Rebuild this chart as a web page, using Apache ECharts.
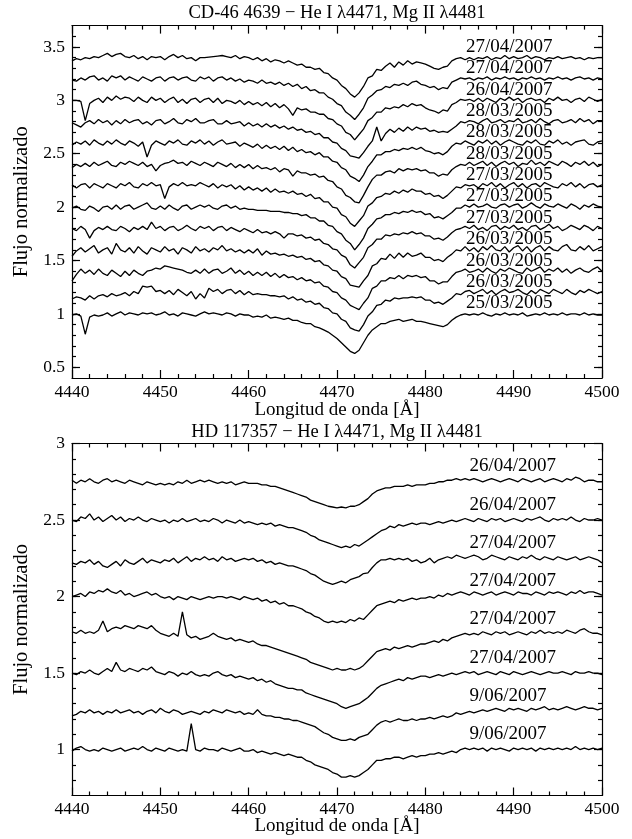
<!DOCTYPE html>
<html><head><meta charset="utf-8">
<script src="https://cdn.jsdelivr.net/npm/echarts@6/dist/echarts.min.js"></script>
<style>html,body{margin:0;padding:0;background:#fff}#c{width:632px;height:839px}</style>
</head><body><div id="c"></div>
<script>
// ---------- data ----------
const wavelength = [4440,4440.5,4441,4441.5,4442,4442.5,4443,4443.5,4444,4444.5,4445,4445.5,4446,4446.5,4447,4447.5,4448,4448.5,4449,4449.5,
4450,4450.5,4451,4451.5,4452,4452.5,4453,4453.5,4454,4454.5,4455,4455.5,4456,4456.5,4457,4457.5,4458,4458.5,4459,4459.5,
4460,4460.5,4461,4461.5,4462,4462.5,4463,4463.5,4464,4464.5,4465,4465.5,4466,4466.5,4467,4467.5,4468,4468.5,4469,4469.5,
4470,4470.5,4471,4471.5,4472,4472.5,4473,4473.5,4474,4474.5,4475,4475.5,4476,4476.5,4477,4477.5,4478,4478.5,4479,4479.5,
4480,4480.5,4481,4481.5,4482,4482.5,4483,4483.5,4484,4484.5,4485,4485.5,4486,4486.5,4487,4487.5,4488,4488.5,4489,4489.5,
4490,4490.5,4491,4491.5,4492,4492.5,4493,4493.5,4494,4494.5,4495,4495.5,4496,4496.5,4497,4497.5,4498,4498.5,4499,4499.5,4500];

// CD-46 4639 spectra (top panel, top to bottom)
const cd_27apr07_a = [3.37,3.39,3.38,3.40,3.39,3.41,3.40,3.42,3.44,3.41,
3.43,3.44,3.41,3.40,3.42,3.39,3.41,3.38,3.41,3.40,
3.41,3.38,3.41,3.43,3.40,3.42,3.39,3.40,3.37,3.40,
3.40,3.405,3.41,3.415,3.42,3.41,3.40,3.42,3.39,3.41,
3.40,3.38,3.40,3.37,3.39,3.36,3.38,3.37,3.35,3.37,
3.35,3.33,3.34,3.31,3.31,3.29,3.30,3.26,3.25,3.21,
3.19,3.14,3.11,3.06,3.03,3.07,3.13,3.21,3.23,3.29,
3.28,3.32,3.35,3.31,3.36,3.33,3.37,3.34,3.36,3.35,
3.34,3.32,3.30,3.29,3.31,3.32,3.37,3.39,3.40,3.38,
3.40,3.38,3.40,3.39,3.41,3.38,3.40,3.39,3.42,3.39,
3.41,3.39,3.40,3.42,3.39,3.41,3.40,3.38,3.40,3.39,
3.41,3.39,3.40,3.41,3.39,3.40,3.38,3.40,3.39,3.40,3.40];
const cd_27apr07_b = [3.19,3.18,3.21,3.19,3.22,3.23,3.19,3.21,3.18,3.23,
3.21,3.23,3.19,3.22,3.20,3.18,3.22,3.20,3.18,3.21,
3.22,3.18,3.21,3.22,3.19,3.21,3.22,3.19,3.18,3.22,
3.20,3.22,3.18,3.21,3.22,3.19,3.21,3.18,3.20,3.17,
3.19,3.18,3.16,3.19,3.16,3.17,3.15,3.17,3.14,3.16,
3.13,3.15,3.11,3.13,3.09,3.10,3.07,3.07,3.03,3.01,
2.97,2.95,2.89,2.86,2.82,2.87,2.93,3.02,3.05,3.09,
3.10,3.13,3.12,3.15,3.14,3.16,3.14,3.17,3.18,3.15,
3.14,3.12,3.13,3.10,3.12,3.11,3.17,3.19,3.21,3.20,
3.21,3.19,3.21,3.20,3.22,3.19,3.21,3.20,3.22,3.20,
3.21,3.19,3.21,3.20,3.22,3.20,3.21,3.19,3.21,3.20,
3.22,3.20,3.21,3.19,3.21,3.22,3.20,3.21,3.19,3.21,3.20];
const cd_26apr07 = [3.00,3.00,2.99,2.81,2.97,3.00,3.02,2.98,3.03,3.00,
3.04,3.01,3.03,3.02,2.99,3.03,3.00,2.98,3.03,3.00,
3.02,2.98,3.01,3.03,2.98,3.01,2.97,3.01,3.02,2.98,
3.01,3.02,2.98,3.02,2.97,3.00,2.99,2.97,3.00,2.96,
2.99,2.96,2.98,2.95,2.98,2.94,2.97,2.93,2.96,2.92,
2.86,2.93,2.91,2.92,2.89,2.89,2.87,2.87,2.83,2.82,
2.78,2.76,2.70,2.68,2.63,2.68,2.73,2.81,2.84,2.89,
2.89,2.93,2.92,2.94,2.93,2.96,2.94,2.97,2.95,2.96,
2.93,2.91,2.90,2.88,2.91,2.90,2.96,2.98,3.01,3.00,
3.01,2.99,3.02,2.99,3.02,3.00,2.98,3.02,3.00,3.03,
3.00,3.02,2.98,3.01,3.02,3.00,3.01,2.98,3.02,3.00,
3.03,3.00,3.01,2.98,3.01,3.02,2.99,3.03,3.01,2.99,3.01];
const cd_28mar05_a = [2.79,2.77,2.75,2.79,2.81,2.78,2.82,2.79,2.81,2.77,
2.81,2.78,2.82,2.79,2.81,2.82,2.78,2.80,2.77,2.81,
2.82,2.78,2.80,2.83,2.79,2.78,2.82,2.80,2.83,2.79,
2.79,2.81,2.82,2.78,2.78,2.81,2.78,2.79,2.80,2.76,
2.79,2.76,2.78,2.75,2.78,2.75,2.77,2.74,2.76,2.73,
2.75,2.72,2.73,2.70,2.71,2.68,2.69,2.65,2.65,2.61,
2.60,2.55,2.53,2.48,2.47,2.46,2.51,2.57,2.62,2.75,
2.62,2.69,2.73,2.70,2.74,2.71,2.75,2.72,2.75,2.73,
2.74,2.71,2.72,2.70,2.71,2.70,2.73,2.76,2.80,2.79,
2.81,2.80,2.78,2.81,2.83,2.79,2.80,2.82,2.79,2.81,
2.80,2.83,2.79,2.80,2.82,2.79,2.83,2.80,2.78,2.81,
2.82,2.79,2.80,2.82,2.79,2.83,2.80,2.82,2.78,2.81,2.81];
const cd_28mar05_b = [2.58,2.61,2.59,2.62,2.58,2.63,2.60,2.58,2.62,2.59,
2.63,2.60,2.58,2.62,2.60,2.57,2.61,2.47,2.58,2.62,
2.60,2.58,2.62,2.60,2.63,2.59,2.58,2.62,2.60,2.63,
2.59,2.62,2.58,2.61,2.63,2.59,2.60,2.61,2.57,2.60,
2.58,2.56,2.59,2.55,2.58,2.55,2.57,2.54,2.57,2.53,
2.56,2.52,2.54,2.51,2.52,2.49,2.51,2.47,2.47,2.43,
2.42,2.37,2.35,2.29,2.27,2.24,2.30,2.38,2.43,2.49,
2.49,2.52,2.52,2.54,2.53,2.55,2.54,2.56,2.54,2.56,
2.53,2.52,2.50,2.51,2.49,2.52,2.57,2.60,2.59,2.62,
2.60,2.58,2.62,2.60,2.63,2.59,2.62,2.58,2.61,2.63,
2.61,2.59,2.58,2.62,2.60,2.63,2.59,2.58,2.62,2.60,
2.63,2.59,2.61,2.58,2.61,2.62,2.63,2.59,2.58,2.61,2.62];
const cd_28mar05_c = [2.37,2.40,2.38,2.41,2.38,2.42,2.39,2.41,2.43,2.39,
2.38,2.42,2.40,2.43,2.41,2.39,2.42,2.38,2.40,2.34,
2.39,2.41,2.42,2.44,2.41,2.42,2.39,2.43,2.41,2.39,
2.42,2.40,2.38,2.42,2.40,2.38,2.41,2.37,2.40,2.37,
2.40,2.36,2.39,2.36,2.37,2.35,2.37,2.33,2.36,2.35,
2.29,2.34,2.32,2.32,2.30,2.31,2.28,2.29,2.25,2.24,
2.19,2.17,2.11,2.09,2.05,2.04,2.11,2.19,2.26,2.30,
2.30,2.33,2.34,2.32,2.36,2.34,2.36,2.35,2.36,2.34,
2.35,2.32,2.32,2.29,2.31,2.30,2.35,2.38,2.40,2.39,
2.42,2.39,2.41,2.43,2.39,2.42,2.38,2.41,2.43,2.40,
2.42,2.38,2.41,2.40,2.44,2.40,2.42,2.39,2.43,2.41,
2.39,2.43,2.41,2.38,2.42,2.40,2.43,2.39,2.42,2.38,2.40];
const cd_27mar05_a = [2.21,2.18,2.21,2.22,2.18,2.22,2.20,2.18,2.22,2.20,
2.18,2.22,2.20,2.23,2.19,2.18,2.22,2.20,2.23,2.20,
2.21,2.08,2.19,2.22,2.20,2.23,2.20,2.21,2.20,2.23,
2.21,2.19,2.22,2.18,2.21,2.19,2.21,2.17,2.20,2.16,
2.19,2.16,2.18,2.15,2.18,2.14,2.17,2.14,2.15,2.13,
2.15,2.12,2.13,2.10,2.12,2.08,2.09,2.05,2.05,2.00,
1.99,1.93,1.91,1.85,1.82,1.87,1.92,2.01,2.04,2.09,
2.10,2.13,2.12,2.15,2.13,2.16,2.14,2.17,2.15,2.15,
2.12,2.13,2.10,2.11,2.08,2.11,2.15,2.19,2.18,2.21,
2.20,2.21,2.18,2.22,2.20,2.23,2.19,2.22,2.18,2.21,
2.23,2.19,2.22,2.18,2.21,2.22,2.19,2.23,2.21,2.19,
2.18,2.22,2.20,2.23,2.19,2.22,2.18,2.21,2.22,2.19,2.21];
const cd_27mar05_b = [1.99,2.01,1.98,1.97,2.01,1.99,1.96,2.00,2.01,1.98,
2.02,1.98,2.01,2.02,1.98,2.00,2.02,2.04,1.99,1.98,
2.01,1.98,2.02,1.99,1.97,2.01,2.02,1.98,2.00,2.02,
2.00,2.02,1.99,1.98,2.01,2.02,1.99,2.01,1.98,1.99,
1.98,1.98,1.97,1.97,1.97,1.96,1.96,1.96,1.95,1.95,
1.94,1.94,1.92,1.93,1.90,1.90,1.87,1.87,1.83,1.82,
1.77,1.75,1.69,1.66,1.60,1.65,1.71,1.80,1.84,1.89,
1.90,1.93,1.93,1.95,1.94,1.96,1.95,1.97,1.95,1.96,
1.93,1.94,1.90,1.91,1.89,1.92,1.95,1.99,1.99,2.02,
2.00,2.03,2.00,2.01,2.03,2.00,1.99,2.02,2.03,2.00,
2.02,2.03,1.99,2.01,2.04,2.01,1.99,2.03,2.01,2.00,
2.03,2.01,1.99,2.03,2.01,1.98,2.02,2.00,2.03,2.01,2.00];
const cd_27mar05_c = [1.80,1.78,1.82,1.79,1.71,1.78,1.81,1.79,1.82,1.79,
1.78,1.82,1.80,1.77,1.81,1.79,1.82,1.79,1.86,1.80,
1.82,1.78,1.81,1.82,1.78,1.80,1.83,1.80,1.78,1.82,
1.80,1.82,1.78,1.81,1.82,1.78,1.81,1.79,1.77,1.80,
1.78,1.76,1.79,1.76,1.77,1.75,1.77,1.75,1.71,1.75,
1.75,1.73,1.74,1.71,1.72,1.69,1.70,1.66,1.65,1.61,
1.60,1.55,1.53,1.46,1.43,1.48,1.53,1.62,1.65,1.70,
1.70,1.74,1.73,1.75,1.74,1.76,1.75,1.77,1.75,1.76,
1.73,1.73,1.70,1.71,1.69,1.72,1.76,1.79,1.80,1.82,
1.80,1.83,1.79,1.81,1.78,1.82,1.83,1.79,1.82,1.80,
1.83,1.79,1.81,1.78,1.82,1.83,1.79,1.81,1.84,1.80,
1.82,1.78,1.80,1.83,1.81,1.79,1.83,1.81,1.78,1.82,1.80];
const cd_26mar05_a = [1.54,1.59,1.62,1.58,1.61,1.64,1.57,1.60,1.62,1.56,
1.66,1.60,1.58,1.62,1.57,1.63,1.59,1.56,1.62,1.60,
1.58,1.63,1.59,1.61,1.56,1.62,1.60,1.57,1.63,1.59,
1.61,1.58,1.62,1.60,1.64,1.59,1.61,1.58,1.60,1.57,
1.60,1.57,1.61,1.55,1.59,1.56,1.57,1.55,1.56,1.54,
1.55,1.53,1.54,1.51,1.52,1.49,1.50,1.46,1.45,1.41,
1.40,1.35,1.33,1.27,1.26,1.25,1.31,1.36,1.45,1.47,
1.52,1.51,1.56,1.52,1.57,1.53,1.57,1.54,1.55,1.57,
1.53,1.53,1.50,1.51,1.49,1.53,1.56,1.60,1.59,1.63,
1.59,1.62,1.58,1.63,1.60,1.64,1.60,1.59,1.63,1.58,
1.62,1.64,1.59,1.63,1.58,1.62,1.64,1.59,1.63,1.60,
1.59,1.63,1.65,1.60,1.59,1.63,1.60,1.64,1.59,1.61,1.63];
const cd_26mar05_b = [1.31,1.37,1.42,1.38,1.41,1.37,1.42,1.38,1.36,1.41,
1.38,1.35,1.40,1.36,1.41,1.38,1.36,1.40,1.41,1.43,
1.42,1.45,1.44,1.43,1.42,1.41,1.39,1.38,1.41,1.38,
1.42,1.38,1.41,1.42,1.38,1.40,1.43,1.38,1.41,1.37,
1.40,1.36,1.39,1.36,1.39,1.35,1.38,1.34,1.37,1.34,
1.35,1.32,1.34,1.31,1.32,1.29,1.30,1.26,1.25,1.21,
1.20,1.15,1.13,1.08,1.06,1.04,1.10,1.15,1.24,1.26,
1.31,1.31,1.34,1.33,1.36,1.33,1.36,1.35,1.36,1.34,
1.35,1.31,1.31,1.28,1.30,1.30,1.35,1.39,1.40,1.42,
1.39,1.40,1.42,1.39,1.43,1.40,1.38,1.42,1.40,1.43,
1.41,1.39,1.38,1.43,1.40,1.42,1.44,1.39,1.42,1.40,
1.43,1.39,1.42,1.38,1.41,1.43,1.40,1.39,1.42,1.44,1.40];
const cd_26mar05_c = [1.14,1.16,1.15,1.13,1.17,1.14,1.17,1.18,1.16,1.19,
1.17,1.18,1.20,1.17,1.21,1.19,1.26,1.25,1.26,1.21,
1.22,1.19,1.22,1.18,1.23,1.20,1.17,1.21,1.14,1.19,
1.15,1.24,1.21,1.23,1.19,1.22,1.23,1.19,1.22,1.18,
1.21,1.18,1.19,1.18,1.18,1.17,1.17,1.16,1.17,1.14,
1.16,1.13,1.14,1.11,1.12,1.09,1.10,1.06,1.05,1.01,
1.00,0.95,0.93,0.87,0.85,0.84,0.90,0.98,1.02,1.08,
1.09,1.13,1.12,1.15,1.14,1.15,1.15,1.16,1.15,1.16,
1.13,1.13,1.10,1.11,1.09,1.12,1.15,1.19,1.18,1.21,
1.22,1.19,1.21,1.23,1.19,1.22,1.18,1.21,1.23,1.20,
1.21,1.23,1.20,1.18,1.22,1.19,1.23,1.21,1.19,1.23,
1.21,1.19,1.23,1.20,1.18,1.22,1.20,1.23,1.21,1.19,1.21];
const cd_25mar05 = [0.99,1.00,0.98,0.81,0.97,0.99,0.98,0.99,1.01,0.98,
1.00,1.02,0.99,1.01,1.00,0.99,1.01,1.00,1.01,0.99,
1.00,1.02,0.99,1.00,0.98,1.01,1.00,0.99,0.98,1.00,
1.02,1.00,1.01,1.00,0.99,1.01,1.00,0.98,1.00,0.99,
0.99,0.97,0.98,0.97,0.99,0.96,0.97,0.96,0.95,0.96,
0.94,0.94,0.92,0.91,0.91,0.88,0.87,0.85,0.83,0.80,
0.77,0.73,0.69,0.65,0.63,0.66,0.73,0.80,0.85,0.88,
0.91,0.91,0.93,0.94,0.95,0.93,0.94,0.95,0.93,0.93,
0.92,0.91,0.90,0.89,0.88,0.90,0.94,0.97,0.99,1.00,
0.99,1.00,0.99,1.01,0.99,0.98,1.00,0.99,1.01,0.99,
1.00,0.99,1.01,0.98,0.99,1.00,0.99,1.01,0.99,1.00,
0.99,1.01,0.99,1.00,1.00,0.99,1.01,0.99,1.00,0.99,0.99];

const topSpectra = [cd_27apr07_a, cd_27apr07_b, cd_26apr07, cd_28mar05_a, cd_28mar05_b, cd_28mar05_c,
  cd_27mar05_a, cd_27mar05_b, cd_27mar05_c, cd_26mar05_a, cd_26mar05_b, cd_26mar05_c, cd_25mar05];
const topDates = ['27/04/2007','27/04/2007','26/04/2007','28/03/2005','28/03/2005','28/03/2005',
  '27/03/2005','27/03/2005','27/03/2005','26/03/2005','26/03/2005','26/03/2005','25/03/2005'];
const topLabelLevels = [3.5,3.3,3.1,2.9,2.7,2.5,2.3,2.1,1.9,1.7,1.5,1.3,1.1];

// HD 117357 spectra (bottom panel, top to bottom)
const hd_26apr07_a = [2.76,2.74,2.76,2.75,2.77,2.75,2.74,2.76,2.77,2.75,
2.76,2.75,2.74,2.76,2.75,2.74,2.73,2.75,2.74,2.73,
2.74,2.73,2.74,2.73,2.75,2.74,2.76,2.74,2.75,2.76,
2.75,2.76,2.75,2.74,2.75,2.74,2.75,2.73,2.74,2.75,
2.74,2.74,2.74,2.73,2.73,2.72,2.72,2.71,2.70,2.69,
2.68,2.67,2.66,2.65,2.63,2.62,2.61,2.60,2.59,2.585,
2.58,2.585,2.58,2.59,2.59,2.60,2.62,2.64,2.67,2.69,
2.70,2.71,2.71,2.72,2.72,2.72,2.73,2.72,2.73,2.73,
2.73,2.74,2.74,2.75,2.75,2.76,2.76,2.77,2.76,2.77,
2.76,2.77,2.76,2.75,2.76,2.77,2.76,2.75,2.76,2.77,
2.76,2.75,2.77,2.76,2.75,2.76,2.77,2.75,2.76,2.77,
2.76,2.75,2.77,2.76,2.78,2.77,2.75,2.76,2.76,2.75,2.75];
const hd_26apr07_b = [2.50,2.49,2.52,2.51,2.54,2.50,2.52,2.49,2.51,2.53,
2.50,2.52,2.49,2.51,2.50,2.52,2.50,2.49,2.51,2.50,
2.49,2.50,2.48,2.50,2.49,2.51,2.49,2.50,2.51,2.49,
2.50,2.49,2.51,2.50,2.48,2.50,2.49,2.48,2.50,2.48,
2.49,2.48,2.47,2.48,2.47,2.48,2.46,2.47,2.46,2.45,
2.45,2.44,2.43,2.42,2.40,2.39,2.37,2.36,2.35,2.34,
2.33,2.32,2.33,2.32,2.34,2.33,2.35,2.37,2.39,2.41,
2.43,2.44,2.46,2.45,2.47,2.46,2.47,2.48,2.47,2.48,
2.48,2.47,2.48,2.49,2.48,2.49,2.50,2.49,2.50,2.51,
2.50,2.49,2.51,2.50,2.49,2.51,2.50,2.51,2.49,2.50,
2.51,2.50,2.49,2.51,2.50,2.51,2.52,2.50,2.49,2.51,
2.50,2.51,2.50,2.52,2.50,2.49,2.51,2.50,2.50,2.51,2.50];
const hd_27apr07_a = [2.22,2.21,2.23,2.22,2.24,2.21,2.23,2.20,2.19,2.21,
2.23,2.20,2.24,2.22,2.21,2.23,2.25,2.22,2.24,2.23,
2.22,2.24,2.23,2.25,2.22,2.24,2.26,2.23,2.25,2.24,
2.26,2.24,2.25,2.23,2.26,2.24,2.25,2.23,2.24,2.25,
2.24,2.25,2.23,2.24,2.22,2.23,2.21,2.22,2.21,2.20,
2.20,2.19,2.18,2.17,2.15,2.14,2.12,2.10,2.09,2.08,
2.09,2.10,2.09,2.11,2.12,2.13,2.15,2.155,2.19,2.22,
2.24,2.24,2.25,2.24,2.25,2.24,2.25,2.23,2.24,2.22,
2.23,2.25,2.22,2.24,2.25,2.26,2.25,2.27,2.26,2.25,
2.26,2.27,2.26,2.24,2.25,2.27,2.26,2.25,2.24,2.26,
2.25,2.24,2.26,2.25,2.27,2.25,2.24,2.26,2.25,2.24,
2.26,2.25,2.24,2.25,2.26,2.24,2.25,2.26,2.25,2.24,2.22];
const hd_27apr07_b = [2.00,2.01,2.02,2.00,2.03,2.02,2.04,2.03,2.05,2.03,
2.02,2.04,2.01,2.02,2.00,2.01,2.02,2.03,2.01,2.02,
2.00,1.99,2.00,1.98,2.00,1.99,1.98,2.00,1.99,1.98,
1.99,2.00,1.99,2.00,2.00,1.99,2.00,1.99,1.98,2.00,
1.99,1.98,1.99,1.97,1.98,1.96,1.97,1.95,1.96,1.94,
1.94,1.93,1.92,1.90,1.89,1.87,1.86,1.84,1.83,1.84,
1.83,1.84,1.83,1.85,1.84,1.86,1.85,1.88,1.91,1.94,
1.95,1.96,1.97,1.96,1.98,1.97,1.98,1.99,1.98,1.99,
1.99,2.00,1.99,2.01,2.00,2.02,2.01,2.02,2.03,2.02,
2.01,2.03,2.02,2.01,2.02,2.03,2.01,2.02,2.03,2.02,
2.01,2.03,2.02,2.02,2.01,2.03,2.02,2.01,2.03,2.02,
2.03,2.02,2.01,2.03,2.02,2.04,2.02,2.03,2.03,2.02,2.01];
const hd_27apr07_c = [1.77,1.76,1.78,1.76,1.77,1.76,1.78,1.84,1.77,1.79,
1.80,1.79,1.81,1.80,1.79,1.81,1.80,1.79,1.81,1.78,
1.76,1.75,1.74,1.76,1.74,1.90,1.75,1.73,1.74,1.72,
1.73,1.74,1.76,1.74,1.73,1.72,1.73,1.71,1.72,1.71,
1.70,1.71,1.69,1.68,1.68,1.67,1.66,1.65,1.64,1.63,
1.62,1.61,1.60,1.59,1.57,1.56,1.55,1.54,1.53,1.52,
1.53,1.52,1.52,1.53,1.52,1.53,1.55,1.58,1.61,1.64,
1.65,1.66,1.65,1.67,1.66,1.67,1.68,1.67,1.68,1.69,
1.69,1.70,1.71,1.70,1.72,1.71,1.73,1.74,1.75,1.76,
1.75,1.76,1.75,1.77,1.76,1.75,1.77,1.76,1.77,1.75,
1.76,1.77,1.76,1.75,1.77,1.76,1.78,1.76,1.77,1.76,
1.77,1.76,1.78,1.77,1.76,1.78,1.79,1.77,1.76,1.76,1.75];
const hd_27apr07_d = [1.50,1.49,1.51,1.50,1.52,1.50,1.49,1.51,1.53,1.51,
1.57,1.52,1.51,1.53,1.52,1.51,1.53,1.52,1.54,1.51,
1.50,1.49,1.51,1.50,1.48,1.50,1.49,1.51,1.49,1.48,
1.49,1.48,1.50,1.51,1.49,1.48,1.49,1.47,1.48,1.47,
1.46,1.47,1.45,1.46,1.44,1.45,1.43,1.42,1.41,1.40,
1.40,1.39,1.39,1.37,1.36,1.35,1.34,1.33,1.32,1.31,
1.30,1.28,1.27,1.28,1.29,1.30,1.32,1.34,1.37,1.40,
1.42,1.43,1.44,1.45,1.46,1.45,1.47,1.46,1.47,1.48,
1.48,1.47,1.48,1.49,1.48,1.49,1.50,1.49,1.50,1.51,
1.50,1.51,1.49,1.50,1.51,1.50,1.49,1.51,1.50,1.49,
1.51,1.50,1.49,1.50,1.51,1.50,1.49,1.50,1.51,1.50,
1.50,1.51,1.50,1.49,1.51,1.50,1.50,1.51,1.50,1.50,1.49];
const hd_9jun07_a = [1.22,1.23,1.25,1.24,1.26,1.24,1.25,1.23,1.25,1.24,
1.26,1.24,1.25,1.26,1.24,1.25,1.23,1.25,1.26,1.24,
1.27,1.25,1.24,1.26,1.25,1.23,1.24,1.25,1.24,1.23,
1.25,1.24,1.26,1.25,1.24,1.26,1.25,1.24,1.25,1.23,
1.24,1.23,1.26,1.23,1.22,1.22,1.21,1.21,1.20,1.20,
1.19,1.19,1.18,1.17,1.16,1.15,1.13,1.11,1.10,1.08,
1.07,1.06,1.06,1.07,1.06,1.08,1.09,1.10,1.13,1.16,
1.18,1.19,1.18,1.19,1.20,1.19,1.19,1.20,1.19,1.20,
1.20,1.21,1.20,1.21,1.22,1.21,1.22,1.24,1.23,1.24,
1.25,1.24,1.25,1.26,1.25,1.26,1.27,1.26,1.25,1.27,
1.26,1.27,1.26,1.25,1.27,1.26,1.27,1.28,1.26,1.27,
1.26,1.27,1.28,1.27,1.26,1.27,1.28,1.27,1.27,1.26,1.27];
const hd_9jun07_b = [0.99,1.01,1.02,1.00,0.99,1.00,0.99,1.01,1.00,0.99,
1.00,1.01,0.99,1.00,1.01,1.00,1.02,1.00,0.99,1.01,
1.00,0.99,1.01,1.00,0.99,1.00,0.99,1.17,1.00,0.99,
1.01,1.00,1.00,0.99,1.01,1.00,0.99,1.00,1.01,0.99,
0.99,1.00,0.98,0.99,0.98,0.97,0.98,0.97,0.96,0.97,
0.96,0.95,0.95,0.93,0.92,0.90,0.89,0.88,0.87,0.85,
0.84,0.82,0.82,0.83,0.82,0.83,0.85,0.87,0.90,0.93,
0.93,0.94,0.94,0.95,0.95,0.94,0.95,0.96,0.95,0.96,
0.96,0.97,0.97,0.98,0.97,0.98,0.99,0.98,1.00,1.01,
1.00,1.01,1.00,1.01,0.99,1.01,1.00,1.01,1.00,0.99,
1.01,1.00,1.01,1.00,1.01,0.99,1.01,1.00,1.01,1.00,
1.01,1.00,1.01,1.00,1.02,1.00,1.01,1.00,1.01,1.00,1.01];

const bottomSpectra = [hd_26apr07_a, hd_26apr07_b, hd_27apr07_a, hd_27apr07_b, hd_27apr07_c, hd_27apr07_d, hd_9jun07_a, hd_9jun07_b];
const bottomDates = ['26/04/2007','26/04/2007','27/04/2007','27/04/2007','27/04/2007','27/04/2007','9/06/2007','9/06/2007'];
const bottomLabelLevels = [2.85,2.6,2.35,2.1,1.85,1.6,1.35,1.1];

// axis ticks
const xTickInterval = 10;
const topYMajor = [0.5,1,1.5,2,2.5,3,3.5];
const topYMinor = [0.5,0.6,0.7,0.8,0.9,1,1.1,1.2,1.3,1.4,1.5,1.6,1.7,1.8,1.9,2,2.1,2.2,2.3,2.4,2.5,2.6,2.7,2.8,2.9,3,3.1,3.2,3.3,3.4,3.5,3.6];
const bottomYMajor = [1,1.5,2,2.5,3];
const bottomYMinor = [0.8,0.9,1,1.1,1.2,1.3,1.4,1.5,1.6,1.7,1.8,1.9,2,2.1,2.2,2.3,2.4,2.5,2.6,2.7,2.8,2.9];

const topTitle = 'CD-46 4639 − He I λ4471, Mg II λ4481';
const bottomTitle = 'HD 117357 − He I λ4471, Mg II λ4481';
const xName = 'Longitud de onda [Å]';
const yName = 'Flujo normalizado';

// ---------- chart ----------
const FONT = "'Liberation Serif','Times New Roman',serif";
const INK = '#000';
const chart = echarts.init(document.getElementById('c'), null, {renderer:'canvas'});

const G = [
  {left:72, top:25.6, width:530, height:352.4, ymin:0.4, ymax:3.7, major:topYMajor, minor:topYMinor},
  {left:72, top:443.5, width:530, height:352, ymin:0.7, ymax:3.0, major:bottomYMajor, minor:bottomYMinor}
];
const lineSt = {color:INK, width:1.2};

function xAx(g, pos, labels){
  return {type:'value', gridIndex:g, position:pos, min:4440, max:4500, interval:xTickInterval,
    axisLine:{show:true, onZero:false, lineStyle:lineSt},
    axisTick:{show:true, inside:true, length:8, lineStyle:lineSt},
    minorTick:{show:true, splitNumber:5, length:4, lineStyle:lineSt},
    axisLabel:{show:labels, color:INK, fontFamily:FONT, fontSize:17.5, margin:5, showMinLabel:true, showMaxLabel:true,
      formatter: v => String(Math.round(v))},
    splitLine:{show:false}, minorSplitLine:{show:false}};
}
function yAx(g, pos, ticks, len, labels, line){
  return {type:'value', gridIndex:g, position:pos, min:G[g].ymin, max:G[g].ymax,
    axisLine:{show:line, onZero:false, lineStyle:lineSt},
    axisTick:{show:true, inside:true, length:len, customValues:ticks, lineStyle:lineSt},
    axisLabel:{show:labels, customValues:ticks, color:INK, fontFamily:FONT, fontSize:17.5, margin:7},
    splitLine:{show:false}};
}

const xAxis = [], yAxis = [];
[0,1].forEach(g=>{
  xAxis.push(xAx(g,'bottom',true));
  xAxis.push(xAx(g,'top',false));
  yAxis.push(yAx(g,'left',G[g].major,8,true,true));
  yAxis.push(yAx(g,'left',G[g].minor,4,false,false));
  yAxis.push(yAx(g,'right',G[g].major,8,false,true));
  yAxis.push(yAx(g,'right',G[g].minor,4,false,false));
});

const series = [];
function addPanel(g, spectra, dates, levels, labelX){
  spectra.forEach(s=>{
    series.push({type:'line', xAxisIndex:g*2, yAxisIndex:g*4, showSymbol:false, symbol:'none',
      lineStyle:{color:INK, width:1.3}, silent:true, animation:false,
      data: wavelength.map((w,i)=>[w, s[i]])});
  });
  series.push({type:'scatter', xAxisIndex:g*2, yAxisIndex:g*4, symbolSize:0, silent:true, animation:false,
    itemStyle:{opacity:1, color:INK},
    label:{show:true, position:'right', distance:0, formatter:'{b}', color:INK, opacity:1, fontFamily:FONT, fontSize:19},
    data: dates.map((d,i)=>({name:d, value:[labelX, levels[i]]}))});
}
addPanel(0, topSpectra, topDates, topLabelLevels, 4484.6);
addPanel(1, bottomSpectra, bottomDates, bottomLabelLevels, 4485.0);

function txt(x,y,t,size,rot){
  return {type:'text', x:x, y:y, rotation:rot||0, silent:true,
    style:{text:t, fill:INK, fontFamily:FONT, fontSize:size, align:'center', verticalAlign:'middle'}};
}

chart.setOption({
  animation:false,
  backgroundColor:'#fff',
  grid: G.map(g=>({left:g.left, top:g.top, width:g.width, height:g.height, containLabel:false})),
  xAxis, yAxis, series,
  graphic: [
    txt(337, 13.5, topTitle, 18.5),
    txt(337, 410, xName, 19),
    txt(22, 201.8, yName, 20.5, Math.PI/2),
    txt(337, 432, bottomTitle, 18.5),
    txt(337, 826, xName, 19),
    txt(22, 619.5, yName, 20.5, Math.PI/2)
  ]
});
</script>
</body></html>
